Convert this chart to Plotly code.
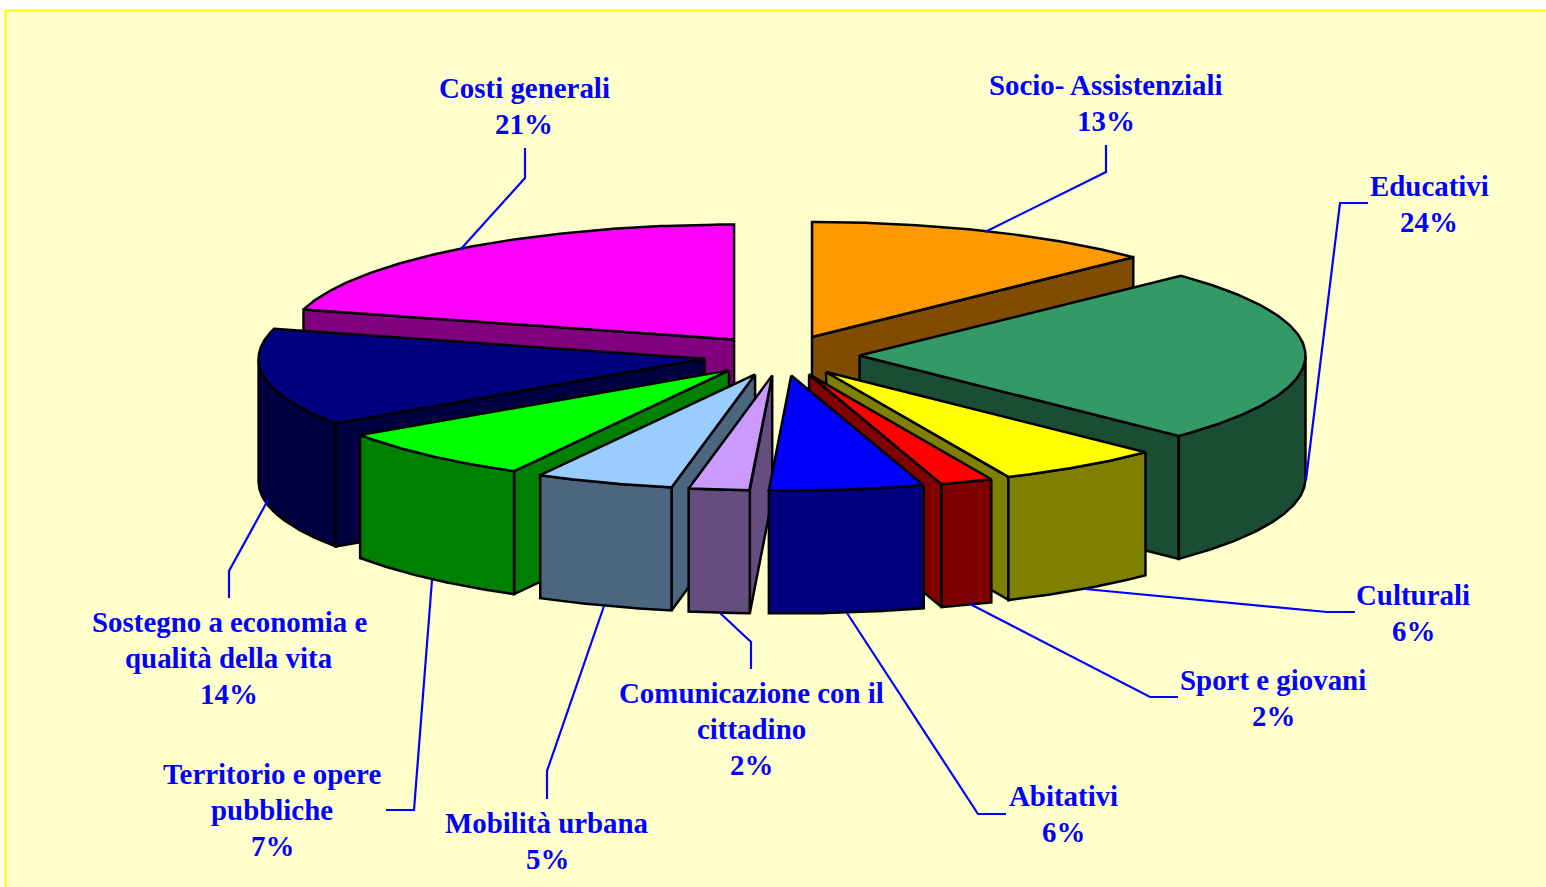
import numpy as np
import plotly.graph_objects as go

# ---- data ----
labels = ["Socio- Assistenziali", "Educativi", "Culturali", "Sport e giovani", "Abitativi",
          "Comunicazione con il cittadino", "Mobilità urbana", "Territorio e opere pubbliche",
          "Sostegno a economia e qualità della vita", "Costi generali"]
values = [12.8, 24.5, 6.0, 1.9, 5.6, 2.2, 5.0, 7.5, 13.7, 20.8]
label_lines = [["Socio- Assistenziali", "13%"], ["Educativi", "24%"], ["Culturali", "6%"], ["Sport e giovani", "2%"],
               ["Abitativi", "6%"], ["Comunicazione con il", "cittadino", "2%"], ["Mobilità urbana", "5%"],
               ["Territorio e opere", "pubbliche", "7%"], ["Sostegno a economia e", "qualità della vita", "14%"],
               ["Costi generali", "21%"]]

# ---- style ----
top_colors = ["#FF9900", "#339966", "#FFFF00", "#FF0000", "#0000FF", "#CC99FF", "#99CCFF", "#00FF00", "#000080", "#FF00FF"]
wall_colors = ["#804C00", "#1A4D33", "#808000", "#800000", "#000080", "#664D80", "#4D6680", "#008000", "#000040", "#800080"]
draw_order = [0, 9, 1, 8, 7, 2, 6, 3, 5, 4]
label_xy = [(1106, 103), (1429, 204), (1413, 613), (1273, 698), (1063, 814), (751, 729), (547, 841), (272, 810), (229, 658), (524, 106)]
leaders = [
    [(1106, 145), (1106, 172), (985, 232)],
    [(1368, 203), (1340, 203), (1306, 480)],
    [(1355, 612), (1327, 612), (1085, 589)],
    [(1178, 697), (1150, 697), (970, 604)],
    [(1006, 814), (978, 814), (847, 613)],
    [(751, 669), (751, 642), (720, 613)],
    [(547, 799), (547, 771), (604, 606)],
    [(386, 810), (414, 810), (432, 580)],
    [(229, 598), (229, 571), (268, 500)],
    [(525, 148), (525, 178), (460, 250)],
]
CX, CY, RX, RY, EXPLODE, DEPTH = 781.5, 355.5, 446, 115, 78, 123
LINE_STEP = 36
BG = "#FFFFCC"

total = sum(values)
edges = np.concatenate([[0], np.cumsum(values)]) * 2 * np.pi / total


def poly(fig, xs, ys, color):
    fig.add_trace(go.Scatter(x=list(xs), y=list(ys), mode="lines", fill="toself", fillcolor=color,
                             line=dict(color="black", width=2.5), hoverinfo="skip", showlegend=False))


fig = go.Figure()
for i in draw_order:
    s, e = edges[i], edges[i + 1]
    mid = (s + e) / 2
    ax = CX + EXPLODE * np.sin(mid)
    ay = CY - EXPLODE * RY / RX * np.cos(mid)
    px = lambda t: ax + RX * np.sin(t)
    py = lambda t: ay - RY * np.cos(t)
    # radial walls facing the viewer
    if np.sin(s) < 0:
        poly(fig, [ax, px(s), px(s), ax, ax], [ay, py(s), py(s) + DEPTH, ay + DEPTH, ay], wall_colors[i])
    if np.sin(e) > 0:
        poly(fig, [ax, px(e), px(e), ax, ax], [ay, py(e), py(e) + DEPTH, ay + DEPTH, ay], wall_colors[i])
    # outer rim
    a, b = max(s, np.pi / 2), min(e, 3 * np.pi / 2)
    if b > a:
        t = np.linspace(a, b, 80)
        xs = np.concatenate([px(t), px(t)[::-1], [px(t)[0]]])
        ys = np.concatenate([py(t), (py(t) + DEPTH)[::-1], [py(t)[0]]])
        poly(fig, xs, ys, wall_colors[i])
    # top face
    t = np.linspace(s, e, 120)
    poly(fig, np.concatenate([[ax], px(t), [ax]]), np.concatenate([[ay], py(t), [ay]]), top_colors[i])

for pts in leaders:
    fig.add_trace(go.Scatter(x=[p[0] for p in pts], y=[p[1] for p in pts], mode="lines",
                             line=dict(color="#0000FF", width=2.2), hoverinfo="skip", showlegend=False))

for lines, (x, y) in zip(label_lines, label_xy):
    for k, txt in enumerate(lines):
        fig.add_annotation(x=x, y=y + (k - (len(lines) - 1) / 2) * LINE_STEP, text="<b>" + txt + "</b>",
                           showarrow=False, xanchor="center", yanchor="middle", align="center",
                           font=dict(family="Liberation Serif", size=28.9, color="#0000FF"))

fig.update_layout(
    width=1546, height=887, margin=dict(l=0, r=0, t=0, b=0), paper_bgcolor="white", plot_bgcolor="white",
    showlegend=False,
    xaxis=dict(range=[0, 1546], visible=False, fixedrange=True),
    yaxis=dict(range=[887, 0], visible=False, fixedrange=True),
    shapes=[dict(type="rect", xref="x", yref="y", x0=5.5, y0=10.5, x1=1600, y1=950, layer="below",
                 fillcolor=BG, line=dict(color="#FFFF00", width=2))],
)
fig.write_html("out.html", config={"displayModeBar": False},
               post_script="document.body.style.margin='0';document.body.style.overflow='hidden';")
